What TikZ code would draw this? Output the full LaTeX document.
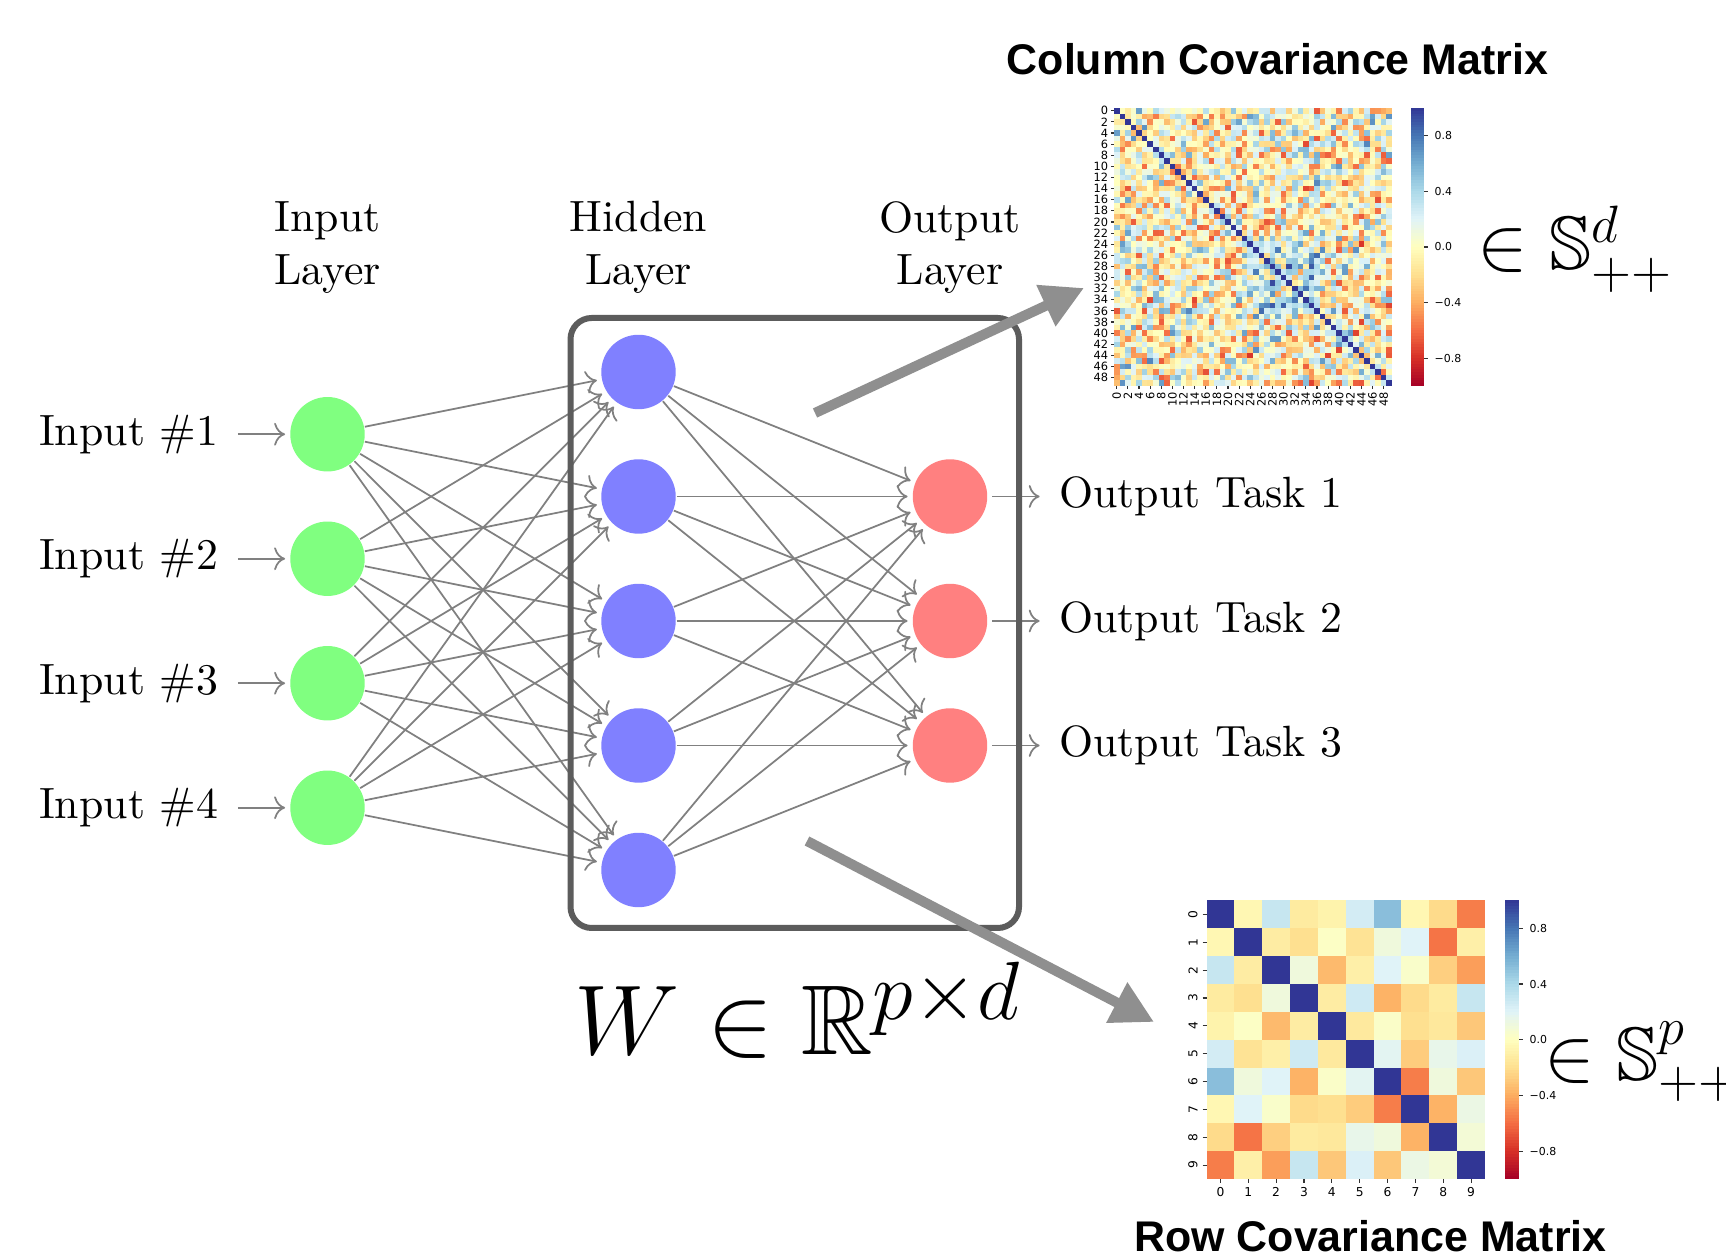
\documentclass[tikz,border=0pt]{standalone}
\usepackage{fontspec}
\usepackage{amssymb}
\usetikzlibrary{arrows.meta}
\newfontfamily\mplfont{DejaVu Sans}
\newfontfamily\headfont{Liberation Sans}

% RdYlBu colour scale, from -1 (0) to +1 (10)
\definecolor{rdylbu0}{HTML}{A50026}
\definecolor{rdylbu1}{HTML}{D73027}
\definecolor{rdylbu2}{HTML}{F46D43}
\definecolor{rdylbu3}{HTML}{FDAE61}
\definecolor{rdylbu4}{HTML}{FEE090}
\definecolor{rdylbu5}{HTML}{FFFFBF}
\definecolor{rdylbu6}{HTML}{E0F3F8}
\definecolor{rdylbu7}{HTML}{ABD9E9}
\definecolor{rdylbu8}{HTML}{74ADD1}
\definecolor{rdylbu9}{HTML}{4575B4}
\definecolor{rdylbu10}{HTML}{313695}

% value in [-1,1] -> colour "cmapc"
\newcommand\cmapset[1]{%
  \pgfmathsetmacro\cmT{max(0,min(9.999,(#1+1)*5))}%
  \pgfmathtruncatemacro\cmK{\cmT}%
  \pgfmathtruncatemacro\cmP{round((\cmT-\cmK)*100)}%
  \pgfmathtruncatemacro\cmKK{\cmK+1}%
  \colorlet{cmapc}{rdylbu\cmKK!\cmP!rdylbu\cmK}%
}

% colour bar: left x, top y, width, height
\newcommand\drawcbar[4]{%
  \foreach \s in {0,...,99}{%
    \pgfmathsetmacro\cbv{1-(\s+0.5)/50}%
    \cmapset{\cbv}%
    \fill[cmapc] (#1,{#2+\s/100*#4}) rectangle ({#1+#3},{#2+(\s+1)/100*#4+0.3});
  }%
  \foreach \tv/\tl in {0.8/0.8,0.4/0.4,0.0/0.0,-0.4/−0.4,-0.8/−0.8}{%
    \draw[tickline] ({#1+#3},{#2+(1-\tv)/2*#4}) -- ++(3.5,0)
      node[cbtick,anchor=west] {\tl};
  }%
}

\begin{document}
\begin{tikzpicture}[x=0.0080321cm,y=-0.0080321cm,
  neuron/.style={circle,minimum size=17pt,inner sep=0pt},
  input neuron/.style={neuron,fill=green!50},
  hidden neuron/.style={neuron,fill=blue!50},
  output neuron/.style={neuron,fill=red!50},
  link/.style={->,draw=black!50,shorten >=1pt},
  pinlink/.style={->,draw=black!50,shorten >=1pt,shorten <=1pt},
  annot/.style={align=center},
  wbox/.style={draw=black!64,line width=1.37pt,rounded corners=0.17cm},
  bigarrow/.style={draw=black!44,line width=2.3pt,-{Triangle[length=9.6pt,width=9.8pt]}},
  tickline/.style={draw=black!80,line width=0.25pt},
  cbtick/.style={font=\mplfont\fontsize{2.5}{3}\selectfont,inner sep=0pt,xshift=1.5pt},
  hmtick/.style={font=\mplfont\fontsize{2.6}{3}\selectfont,inner sep=0pt},
  hmtickb/.style={font=\mplfont\fontsize{2.8}{3.3}\selectfont,inner sep=0pt},
  heading/.style={font=\headfont\bfseries\fontsize{9.8}{12}\selectfont,inner sep=0pt}]

\useasboundingbox (0,0) rectangle (1726,1259);
\fill[white] (0,0) rectangle (1726,1259);

% ---------- network ----------
\foreach \y in {1,...,4}{
  \node[input neuron] (I-\y) at (327.5,{434.25+(\y-1)*124.5}) {};
  \node[anchor=east] (inlab-\y) at (233.5,{434.25+(\y-1)*124.5}) {Input \#\y};
  \draw[pinlink] (inlab-\y) -- (I-\y);
}
\foreach \y in {1,...,5}
  \node[hidden neuron] (H-\y) at (638.5,{372+(\y-1)*124.5}) {};
\foreach \y in {1,...,3}{
  \node[output neuron] (O-\y) at (950,{496.5+(\y-1)*124.5}) {};
  \node[anchor=west] (outlab-\y) at (1044,{496.5+(\y-1)*124.5}) {Output Task \y};
  \draw[pinlink] (O-\y) -- (outlab-\y);
}
\foreach \s in {1,...,4}
  \foreach \d in {1,...,5}
    \draw[link] (I-\s) -- (H-\d);
\foreach \s in {1,...,5}
  \foreach \d in {1,...,3}
    \draw[link] (H-\s) -- (O-\d);

\node[annot] (il) at (327.5,247.5) {Input\\Layer};
\node[annot] (hl) at (638.5,247.5) {Hidden\\Layer};
\node[annot] (ol) at (950,247.5) {Output\\Layer};

% weight matrix frame
\draw[wbox] (570.5,318) rectangle (1019,928);
\node[anchor=base west,inner sep=0pt,scale=0.91] (wlab) at (574,1055)
  {\Huge $W \in \mathbb{R}^{p\times d}$};

% arrows to the two covariance matrices
\coordinate (upA) at (815,413);
\coordinate (upB) at (1084,288);
\coordinate (dnA) at (807,841);
\coordinate (dnB) at (1154,1022);
\draw[bigarrow] (upA) -- (upB);
\draw[bigarrow] (dnA) -- (dnB);

% ---------- column covariance (50 x 50) ----------
\def\hmX{1114}\def\hmY{108}\def\hmC{5.56}
\pgfmathsetseed{7}
\foreach \i in {0,...,49}{
  \fill[rdylbu10] ({\hmX+\i*\hmC},{\hmY+\i*\hmC}) rectangle ++({\hmC+0.4},{\hmC+0.4});
  \pgfmathtruncatemacro\jstart{\i+1}
  \ifnum\i<49
  \foreach \j in {\jstart,...,49}{
    \pgfmathsetmacro\bump{(\i>23)*(\j>23)*(\i<37)*(\j<37)*0.3}
    \pgfmathsetmacro\hv{0.4*(rand+rand)-0.03+\bump}
    \cmapset{\hv}
    \fill[cmapc] ({\hmX+\j*\hmC},{\hmY+\i*\hmC}) rectangle ++({\hmC+0.4},{\hmC+0.4});
    \fill[cmapc] ({\hmX+\i*\hmC},{\hmY+\j*\hmC}) rectangle ++({\hmC+0.4},{\hmC+0.4});
  }
  \fi
}
\foreach \k in {0,2,...,48}{
  \draw[tickline] ({\hmX-3},{\hmY+(\k+0.5)*\hmC}) -- ({\hmX},{\hmY+(\k+0.5)*\hmC});
  \node[hmtick,anchor=east] at ({\hmX-5},{\hmY+(\k+0.5)*\hmC}) {\k};
  \draw[tickline] ({\hmX+(\k+0.5)*\hmC},{\hmY+278}) -- ({\hmX+(\k+0.5)*\hmC},{\hmY+281});
  \node[hmtick,anchor=east,rotate=90] at ({\hmX+(\k+0.5)*\hmC},{\hmY+283}) {\k};
}
\drawcbar{1411}{108}{13}{278}
\node[heading] (coltitle) at (1277.5,59.5) {Column Covariance Matrix};
\node[anchor=base west,inner sep=0pt] (sd) at (1477,270)
  {\LARGE $\in \mathbb{S}^d_{++}$};

% ---------- row covariance (10 x 10) ----------
\def\hbX{1206.5}\def\hbY{900.5}\def\hbC{27.85}
\foreach \row [count=\i from 0] in {
  {1,-0.05,0.3,-0.13,-0.08,0.25,0.52,-0.05,-0.22,-0.55},
  {-0.05,1,-0.12,-0.2,0.02,-0.18,0.1,0.2,-0.58,-0.1},
  {0.3,-0.12,1,0.1,-0.35,-0.1,0.2,0.04,-0.27,-0.45},
  {-0.13,-0.2,0.1,1,-0.12,0.27,-0.38,-0.22,-0.13,0.3},
  {-0.08,0.02,-0.35,-0.12,1,-0.14,0.03,-0.2,-0.15,-0.3},
  {0.25,-0.18,-0.1,0.27,-0.14,1,0.18,-0.28,0.15,0.22},
  {0.52,0.1,0.2,-0.38,0.03,0.18,1,-0.55,0.1,-0.3},
  {-0.05,0.2,0.04,-0.22,-0.2,-0.28,-0.55,1,-0.38,0.13},
  {-0.22,-0.58,-0.27,-0.13,-0.15,0.15,0.1,-0.38,1,0.08},
  {-0.55,-0.1,-0.45,0.3,-0.3,0.22,-0.3,0.13,0.08,1}}{
  \foreach \v [count=\j from 0] in \row {
    \cmapset{\v}
    \fill[cmapc] ({\hbX+\j*\hbC},{\hbY+\i*\hbC}) rectangle ++({\hbC+0.3},{\hbC+0.3});
  }
}
\foreach \k in {0,...,9}{
  \draw[tickline] ({\hbX-4},{\hbY+(\k+0.5)*\hbC}) -- ({\hbX},{\hbY+(\k+0.5)*\hbC});
  \node[hmtickb,anchor=south,rotate=90] at ({\hbX-8},{\hbY+(\k+0.5)*\hbC}) {\k};
  \draw[tickline] ({\hbX+(\k+0.5)*\hbC},{\hbY+278.5}) -- ({\hbX+(\k+0.5)*\hbC},{\hbY+282.5});
  \node[hmtickb,anchor=north] at ({\hbX+(\k+0.5)*\hbC},{\hbY+286}) {\k};
}
\drawcbar{1504.5}{900.5}{14.5}{278.5}
\node[heading] (rowtitle) at (1370.5,1236) {Row Covariance Matrix};
\node[anchor=base west,inner sep=0pt] (sp) at (1544,1081)
  {\LARGE $\in \mathbb{S}^p_{++}$};

\end{tikzpicture}
\end{document}
